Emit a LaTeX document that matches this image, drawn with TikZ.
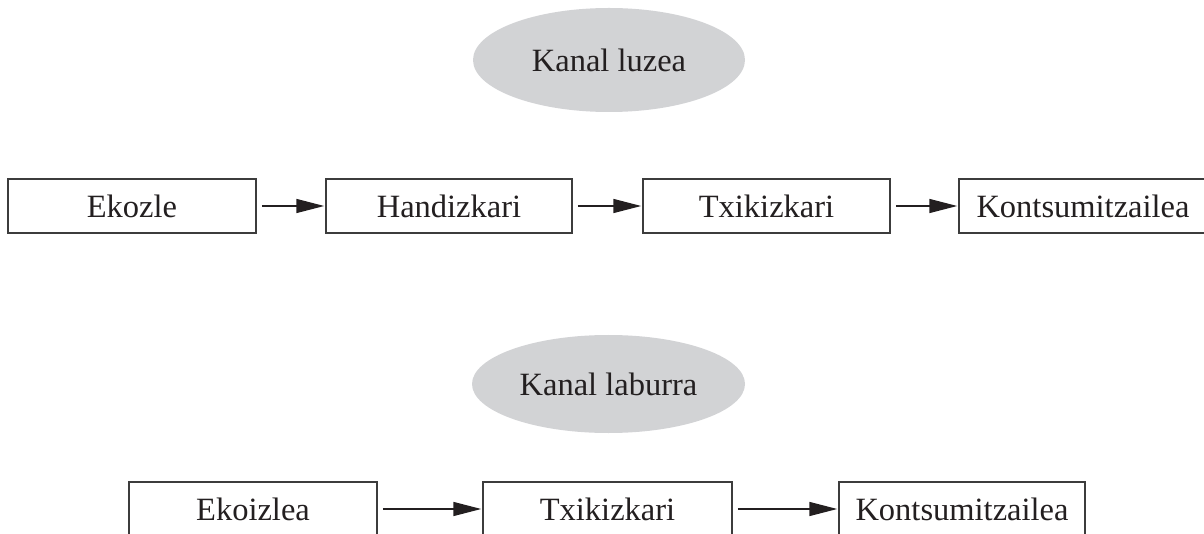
\documentclass[tikz,border=0pt]{standalone}
\usepackage{fontspec}
\setmainfont{Liberation Serif}
\usetikzlibrary{arrows.meta,shapes.geometric}
\definecolor{inkc}{RGB}{35,31,32}
\definecolor{framec}{RGB}{60,60,60}
\definecolor{ovalc}{RGB}{210,211,213}
\tikzset{
  stage/.style={draw=framec, line width=1.5pt, fill=white, inner sep=0pt,
    minimum height=54pt, text=inkc, font=\fontsize{32.5}{37}\selectfont},
  channel/.style={ellipse, fill=ovalc, inner sep=0pt, text=inkc,
    font=\fontsize{32.5}{37}\selectfont},
  flow/.style={draw=inkc, line width=1.5pt,
    -{Triangle[length=28pt,width=14pt]}, shorten <=5pt, shorten >=1pt},
}
\begin{document}
\begin{tikzpicture}[x=1pt,y=-1pt]
  \useasboundingbox (0,0) rectangle (1204,534);
  \clip (0,0) rectangle (1204,534);

  % long channel
  \node[channel, minimum width=272pt, minimum height=104pt] (longc) at (609,60) {Kanal luzea};
  \node[stage, minimum width=248pt] (p1) at (132,206) {Ekozle};
  \node[stage, minimum width=246pt] (w1) at (449,206) {Handizkari};
  \node[stage, minimum width=247pt] (r1) at (766.5,206) {Txikizkari};
  \node[stage, minimum width=248pt] (c1) at (1083,206) {Kontsumitzailea};
  \draw[flow] (p1.east) -- (w1.west);
  \draw[flow] (w1.east) -- (r1.west);
  \draw[flow] (r1.east) -- (c1.west);

  % short channel
  \node[channel, minimum width=273pt, minimum height=98pt] (shortc) at (608.5,384) {Kanal laburra};
  \node[stage, minimum width=248pt] (p2) at (253,509) {Ekoizlea};
  \node[stage, minimum width=249pt] (r2) at (607.5,509) {Txikizkari};
  \node[stage, minimum width=246pt] (c2) at (962,509) {Kontsumitzailea};
  \draw[flow] (p2.east) -- (r2.west);
  \draw[flow] (r2.east) -- (c2.west);
\end{tikzpicture}
\end{document}
